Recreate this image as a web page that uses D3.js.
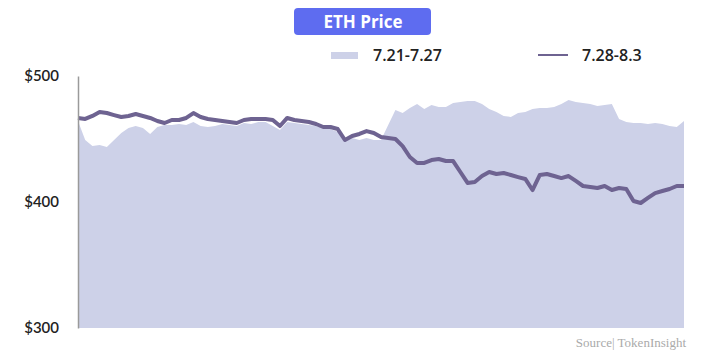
<!DOCTYPE html>
<html>
<head>
<meta charset="utf-8">
<script src="https://cdn.jsdelivr.net/npm/d3@7"></script>
<style>
  body { margin: 0; background: #fff; }
  svg { display: block; }
</style>
</head>
<body>
<div id="graf"></div>
<script>
// hours since start of each week, sampled every 2h
const hours = d3.range(0, 169, 2)

// 7.21-7.27 (area)
const week1 = [
  464.3, 449.2, 444.4, 445.2, 443.7, 449.2, 454.8, 458.7, 460.3, 458.7,
  454.0, 459.5, 461.1, 461.1, 461.9, 461.1, 463.5, 460.3, 459.5, 460.3,
  461.9, 461.1, 460.3, 462.7, 461.9, 463.5, 463.5, 460.3, 457.1, 463.5,
  462.7, 461.9, 461.1, 460.3, 458.7, 457.9, 455.6, 449.2, 450.8, 449.2,
  450.8, 449.2, 449.2, 461.1, 473.0, 470.6, 474.6, 477.8, 473.8, 477.0,
  475.4, 475.4, 478.6, 479.4, 480.2, 480.2, 477.8, 473.8, 471.4, 468.3,
  467.5, 470.6, 471.4, 473.8, 474.6, 474.6, 475.4, 477.8, 481.0, 479.4,
  478.6, 477.8, 476.2, 477.0, 477.8, 465.9, 463.5, 462.7, 462.7, 461.9,
  462.7, 461.9, 460.3, 459.5, 464.3
]

// 7.28-8.3 (line)
const week2 = [
  466.7, 465.9, 468.3, 471.4, 470.6, 469.0, 467.5, 468.3, 469.8, 468.3,
  466.7, 464.3, 462.7, 465.1, 465.1, 466.7, 470.6, 467.5, 465.9, 465.1,
  464.3, 463.5, 462.7, 465.1, 465.9, 465.9, 465.9, 465.1, 460.3, 466.7,
  465.1, 464.3, 463.5, 461.9, 459.5, 459.5, 457.9, 449.2, 452.4, 454.0,
  456.3, 454.8, 451.6, 450.8, 450.0, 444.4, 435.7, 431.0, 431.0, 433.3,
  434.1, 432.5, 432.5, 423.8, 415.1, 415.9, 420.6, 423.8, 422.2, 423.0,
  421.4, 419.8, 418.3, 409.5, 421.4, 422.2, 420.6, 419.0, 420.6, 416.7,
  412.7, 411.9, 411.1, 412.7, 409.5, 411.1, 410.3, 400.8, 399.2, 403.2,
  407.1, 408.7, 410.3, 412.7, 412.7
]

const yTicks = [300, 400, 500]
const seriesNames = ['7.21-7.27', '7.28-8.3']

const ancho = 711
const alto = 359
const areaColor = '#cdd1e8'
const lineColor = '#6e6391'

const svg = d3.select('#graf').append('svg')
    .attr('width', ancho)
    .attr('height', alto)

const x = d3.scaleLinear().domain([0, 168]).range([78, 684])
const y = d3.scaleLinear().domain([300, 500]).range([328, 76])

const area = d3.area()
    .x((d, i) => x(hours[i]))
    .y0(y(300))
    .y1(d => y(d))

const line = d3.line()
    .x((d, i) => x(hours[i]))
    .y(d => y(d))

svg.append('path')
    .attr('d', area(week1))
    .attr('fill', areaColor)

svg.append('path')
    .attr('d', line(week2))
    .attr('fill', 'none')
    .attr('stroke', lineColor)
    .attr('stroke-width', 4)
    .attr('stroke-linejoin', 'round')

// left axis: line + dollar labels, no ticks
const yAxis = d3.axisLeft(y)
    .tickValues(yTicks)
    .tickSize(0)
    .tickPadding(19)
    .tickFormat(d => '$' + d)

const gy = svg.append('g')
    .attr('transform', `translate(${x(0)},0)`)
    .call(yAxis)
gy.select('.domain').attr('stroke', '#9a9a9a').attr('stroke-width', 1.5)
gy.selectAll('text')
    .attr('font-family', 'Lato, sans-serif')
    .attr('font-size', 15)
    .attr('font-weight', 600)
    .attr('fill', '#222')

// title badge
svg.append('rect')
    .attr('x', 294).attr('y', 8)
    .attr('width', 137).attr('height', 27)
    .attr('rx', 4)
    .attr('fill', '#5e6cf0')
svg.append('text')
    .attr('x', 363).attr('y', 28)
    .attr('text-anchor', 'middle')
    .attr('font-family', '"Open Sans", sans-serif')
    .attr('font-weight', 700)
    .attr('font-size', 17)
    .attr('fill', '#fff')
    .text('ETH Price')

// legend
const leg = svg.append('g')
    .attr('font-family', '"Open Sans", sans-serif')
    .attr('font-size', 16)
    .attr('font-weight', 600)
    .attr('fill', '#222')

leg.append('rect')
    .attr('x', 331).attr('y', 52)
    .attr('width', 27).attr('height', 7)
    .attr('fill', areaColor)
leg.append('text')
    .attr('x', 373).attr('y', 61)
    .text(seriesNames[0])

leg.append('line')
    .attr('x1', 538).attr('x2', 568)
    .attr('y1', 55).attr('y2', 55)
    .attr('stroke', lineColor)
    .attr('stroke-width', 2)
leg.append('text')
    .attr('x', 582).attr('y', 61)
    .text(seriesNames[1])

// source note
svg.append('text')
    .attr('x', 686).attr('y', 347)
    .attr('text-anchor', 'end')
    .attr('font-family', '"Liberation Serif", serif')
    .attr('font-size', 13)
    .attr('fill', '#aaa')
    .text('Source| TokenInsight')
</script>
</body>
</html>
